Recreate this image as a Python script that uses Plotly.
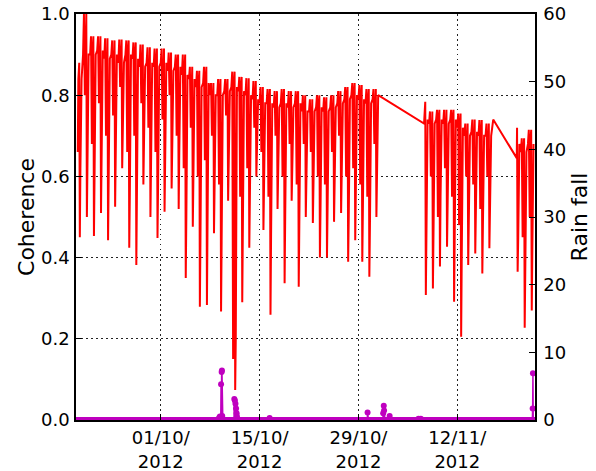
import pandas as pd
import plotly.graph_objects as go

# ---------------- data ----------------
# Coherence: per-day values for each observed segment
# peak = daily maximum, hi = upper shoulder, sec/sec2 = secondary dips, trough = daily minimum
seg1_start_day = "2012-09-19"
seg1_peak = [0.88, 1.00, 0.945, 0.945, 0.94, 0.935, 0.937, 0.935, 0.93, 0.925, 0.918, 0.915,
             0.915, 0.905, 0.90, 0.90, 0.87, 0.86, 0.87, 0.83, 0.84, 0.84, 0.858, 0.845,
             0.842, 0.835, 0.82, 0.815, 0.81, 0.815, 0.81, 0.81, 0.80, 0.79, 0.80, 0.795,
             0.80, 0.81, 0.82, 0.83, 0.825, 0.815, 0.815]
seg1_hi = [0.84, 0.90, 0.90, 0.91, 0.89, 0.90, 0.88, 0.90, 0.89, 0.87, 0.88, 0.87,
           0.88, 0.86, 0.87, 0.85, 0.84, 0.82, 0.83, 0.80, 0.80, 0.81, 0.82, 0.81,
           0.80, 0.79, 0.78, 0.78, 0.77, 0.78, 0.77, 0.78, 0.76, 0.76, 0.77, 0.76,
           0.77, 0.78, 0.79, 0.80, 0.79, 0.78, 0.79]
seg1_sec = [0.72, 0.80, 0.68, 0.78, 0.70, 0.75, 0.82, 0.66, 0.70, 0.78, 0.72, 0.66,
            0.74, 0.80, 0.70, 0.62, 0.72, 0.60, 0.64, 0.70, 0.58, 0.75, 0.15, 0.55,
            0.62, 0.72, 0.66, 0.55, 0.70, 0.60, 0.68, 0.58, 0.68, 0.66, 0.60, 0.58,
            0.66, 0.70, 0.60, 0.62, 0.58, 0.55, 0.68]
seg1_sec2 = [0.62, 0.70, 0.60, 0.66, 0.58, 0.72, 0.74, 0.56, 0.52, 0.70, 0.62, 0.58,
             0.64, 0.72, 0.66, 0.50, 0.60, 0.45, 0.48, 0.62, 0.44, 0.68, 0.20, 0.48,
             0.55, 0.70, 0.60, 0.45, 0.65, 0.50, 0.64, 0.48, 0.62, 0.60, 0.52, 0.52,
             0.60, 0.64, 0.50, 0.55, 0.52, 0.48, 0.62]
seg1_trough = [0.45, 0.50, 0.453, 0.51, 0.443, 0.525, 0.62, 0.424, 0.382, 0.58, 0.50, 0.448,
               0.513, 0.57, 0.52, 0.35, 0.476, 0.279, 0.283, 0.46, 0.267, 0.54, 0.074, 0.29,
               0.424, 0.60, 0.468, 0.259, 0.52, 0.337, 0.54, 0.328, 0.50, 0.485, 0.40, 0.40,
               0.488, 0.51, 0.39, 0.443, 0.39, 0.353, 0.50]

seg2_start_day = "2012-11-07"
seg2_peak = [0.784, 0.76, 0.764, 0.764, 0.764, 0.755, 0.73, 0.74, 0.739, 0.73]
seg2_hi = [0.74, 0.73, 0.74, 0.73, 0.74, 0.72, 0.70, 0.71, 0.70, 0.70]
seg2_sec = [0.55, 0.60, 0.50, 0.62, 0.55, 0.48, 0.60, 0.58, 0.52, 0.60]
seg2_sec2 = [0.45, 0.50, 0.55, 0.58, 0.45, 0.40, 0.52, 0.55, 0.48, 0.55]
seg2_trough = [0.308, 0.324, 0.378, 0.427, 0.291, 0.205, 0.382, 0.41, 0.361, 0.423]

seg3_start_day = "2012-11-20"
seg3_peak = [0.72, 0.694, 0.715]
seg3_hi = [0.68, 0.66, 0.68]
seg3_sec = [0.50, 0.45, 0.50]
seg3_sec2 = [0.45, 0.38, 0.42]
seg3_trough = [0.365, 0.227, 0.27]

# observed windows of each segment (outside them the record is missing)
seg_windows = [("2012-09-19 06:00", "2012-10-31 19:00"),
               ("2012-11-07 07:00", "2012-11-17 02:00"),
               ("2012-11-20 10:00", "2012-11-23 00:00")]
# edge samples at the start / end of the segments
edge_times = ["2012-09-19 06:00", "2012-10-31 19:00", "2012-11-07 07:00",
              "2012-11-17 02:00", "2012-11-20 10:00"]
edge_values = [0.66, 0.80, 0.73, 0.74, 0.645]

# within-day sampling: hour of day and which daily value applies
day_hours = [0, 3, 6, 8, 11, 13, 15, 19]
day_kind = ["hi", "peak", "sec", "hi", "peak", "trough", "sec2", "hi"]

# Rain fall (right axis); zero outside the listed hours
rain_times = ["2012-10-09 06:00", "2012-10-09 09:00", "2012-10-09 13:00", "2012-10-09 15:00",
              "2012-10-09 16:00", "2012-10-09 17:00",
              "2012-10-11 10:00", "2012-10-11 12:00", "2012-10-11 14:00", "2012-10-11 16:00",
              "2012-10-11 18:00", "2012-10-11 19:00",
              "2012-10-16 10:00",
              "2012-10-30 07:00",
              "2012-11-01 12:00", "2012-11-01 14:00", "2012-11-01 15:00", "2012-11-02 10:00",
              "2012-11-06 12:00", "2012-11-06 20:00",
              "2012-11-22 16:00", "2012-11-22 17:00"]
rain_values = [0.3, 0.5, 5.3, 7.1, 7.3, 0.6,
               3.1, 2.9, 2.4, 1.7, 1.0, 0.5,
               0.3,
               1.1,
               1.0, 2.1, 1.4, 0.6,
               0.2, 0.2,
               1.7, 6.9]

x_tick_dates = ["2012-10-01", "2012-10-15", "2012-10-29", "2012-11-12"]
x_tick_text = ["01/10/<br>2012", "15/10/<br>2012", "29/10/<br>2012", "12/11/<br>2012"]
x_range = ["2012-09-19 00:00", "2012-11-23 00:00"]

# ---------------- build the series ----------------
pts = []
for start, peaks, his, secs, secs2, troughs in [
        (seg1_start_day, seg1_peak, seg1_hi, seg1_sec, seg1_sec2, seg1_trough),
        (seg2_start_day, seg2_peak, seg2_hi, seg2_sec, seg2_sec2, seg2_trough),
        (seg3_start_day, seg3_peak, seg3_hi, seg3_sec, seg3_sec2, seg3_trough)]:
    days = pd.date_range(start, periods=len(peaks), freq="D")
    for d, p, hi, s, s2, t in zip(days, peaks, his, secs, secs2, troughs):
        vals = {"peak": p, "hi": hi, "sec": s, "sec2": s2, "trough": t}
        for h, k in zip(day_hours, day_kind):
            pts.append((d + pd.Timedelta(hours=h), vals[k]))

wins = [(pd.Timestamp(a), pd.Timestamp(b)) for a, b in seg_windows]
pts = [(t, v) for t, v in pts if any(a < t < b for a, b in wins)]
pts += [(pd.Timestamp(t), v) for t, v in zip(edge_times, edge_values)]
pts.sort(key=lambda p: p[0])
coh_t = [p[0] for p in pts]
coh_v = [p[1] for p in pts]

rain_index = pd.date_range(x_range[0], x_range[1], freq="h")
rain = pd.Series(0.0, index=rain_index)
for t, v in zip(rain_times, rain_values):
    rain[pd.Timestamp(t)] = v

# ---------------- figure ----------------
FONT = "DejaVu Sans"
fig = go.Figure()
fig.add_trace(go.Scatter(x=coh_t, y=coh_v, mode="lines",
                         line=dict(color="#ff0000", width=2), yaxis="y",
                         showlegend=False))
fig.add_trace(go.Scatter(x=rain.index, y=rain.values, mode="lines+markers",
                         line=dict(color="#bf00bf", width=1.5),
                         marker=dict(size=6, color="#bf00bf"), yaxis="y2",
                         showlegend=False))

grid = dict(showgrid=True, gridcolor="#222", gridwidth=1, griddash="1.5px,3.5px")
fig.update_layout(
    width=596, height=471,
    margin=dict(l=76, r=61, t=14, b=51),
    paper_bgcolor="white", plot_bgcolor="white",
    font=dict(family=FONT, size=18, color="black"),
    xaxis=dict(type="date", range=x_range, tickmode="array",
               tickvals=x_tick_dates, ticktext=x_tick_text,
               ticks="inside", ticklen=6, tickcolor="black",
               showline=True, linecolor="black", linewidth=1.5, mirror=True,
               zeroline=False, ticklabelstandoff=1, automargin=False,
               ticklabeloverflow="allow", **grid),
    yaxis=dict(range=[0, 1], tickmode="linear", tick0=0, dtick=0.2, tickformat=".1f",
               ticks="inside", ticklen=6, tickcolor="black",
               showline=True, linecolor="black", linewidth=1.5, mirror=True,
               zeroline=False, ticklabelstandoff=1, automargin=False,
               ticklabeloverflow="allow",
               title=dict(text="Coherence", standoff=0), **grid),
    yaxis2=dict(range=[0, 60], tickmode="linear", tick0=0, dtick=10,
                overlaying="y", side="right",
                ticks="inside", ticklen=6, tickcolor="black",
                showline=True, linecolor="black", linewidth=1.5,
                showgrid=False, zeroline=False, ticklabelstandoff=3, automargin=False,
                ticklabeloverflow="allow",
                title=dict(text="Rain fall", standoff=6)),
)

# remove the browser's default 8px page margin so the figure fills the window exactly
fig.write_html("out.html", config={"displayModeBar": False},
               post_script="document.body.style.margin='0';")
